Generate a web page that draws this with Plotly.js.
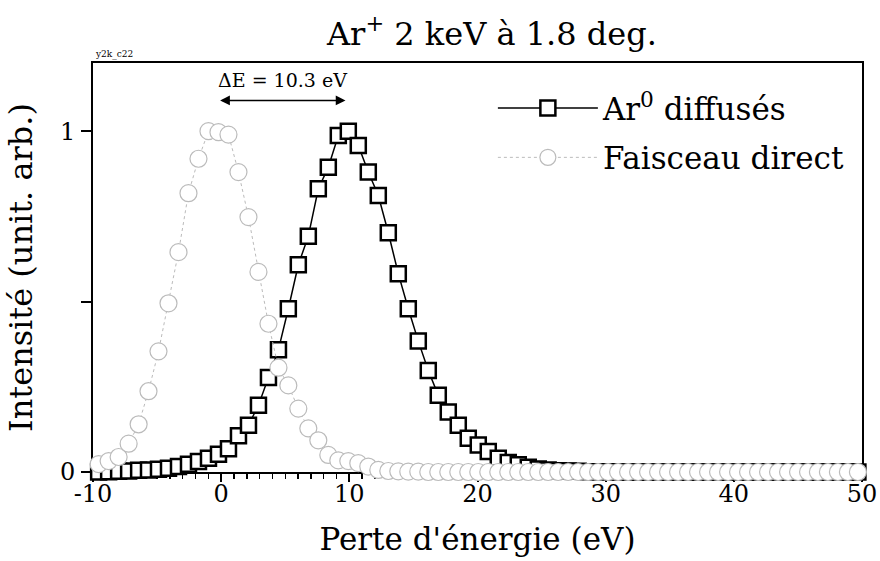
<!DOCTYPE html>
<html>
<head>
<meta charset="utf-8">
<script src="https://cdn.plot.ly/plotly-3.0.1.min.js"></script>
<style>html,body{margin:0;padding:0;background:#fff;}#chart{width:880px;height:561px;}</style>
</head>
<body>
<div id="chart"></div>
<script>
// Energy loss axis (eV), shared by both series
const energy = [
  -9.56, -8.78, -8.00, -7.22, -6.44, -5.67, -4.89, -4.11, -3.33, -2.55,
  -1.77, -0.99, -0.21, 0.57, 1.35, 2.13, 2.91, 3.69, 4.47, 5.24,
  6.02, 6.80, 7.58, 8.36, 9.14, 9.92, 10.70, 11.48, 12.26, 13.04,
  13.82, 14.60, 15.38, 16.16, 16.94, 17.72, 18.50, 19.28, 20.06, 20.84,
  21.62, 22.40, 23.18, 23.96, 24.74, 25.51, 26.29, 27.07, 27.85, 28.63,
  29.41, 30.19, 30.97, 31.75, 32.53, 33.31, 34.09, 34.87, 35.65, 36.43,
  37.21, 37.99, 38.77, 39.55, 40.33, 41.11, 41.89, 42.67, 43.45, 44.23,
  45.01, 45.79, 46.56, 47.34, 48.12, 48.90, 49.68
];
// Ar0 diffuses (scattered neutrals)
const arDiffuses = [
  0.000, 0.001, 0.002, 0.003, 0.005, 0.006, 0.008, 0.011, 0.016, 0.023,
  0.031, 0.040, 0.052, 0.068, 0.106, 0.137, 0.196, 0.277, 0.359, 0.479,
  0.608, 0.692, 0.831, 0.894, 0.987, 1.000, 0.958, 0.880, 0.811, 0.702,
  0.582, 0.479, 0.384, 0.298, 0.225, 0.176, 0.137, 0.099, 0.079, 0.060,
  0.040, 0.028, 0.021, 0.014, 0.009, 0.006, 0.004, 0.003, 0.002, 0.001,
  0.001, 0.001, 0.000, 0.000, 0.000, 0.000, 0.000, 0.000, 0.000, 0.000,
  0.000, 0.000, 0.000, 0.000, 0.000, 0.000, 0.000, 0.000, 0.000, 0.000,
  0.000, 0.000, 0.000, 0.000, 0.000, 0.000, 0.000
];
// Faisceau direct (direct beam)
const faisceauDirect = [
  0.023, 0.032, 0.044, 0.083, 0.140, 0.237, 0.354, 0.495, 0.645, 0.818,
  0.919, 1.000, 0.997, 0.990, 0.880, 0.748, 0.587, 0.435, 0.306, 0.254,
  0.186, 0.128, 0.093, 0.050, 0.034, 0.032, 0.026, 0.016, 0.006, 0.003,
  0.002, 0.001, 0.001, 0.000, 0.000, 0.000, 0.000, 0.000, 0.000, 0.000,
  0.000, 0.000, 0.000, 0.000, 0.000, 0.000, 0.000, 0.000, 0.000, 0.000,
  0.000, 0.000, 0.000, 0.000, 0.000, 0.000, 0.000, 0.000, 0.000, 0.000,
  0.000, 0.000, 0.000, 0.000, 0.000, 0.000, 0.000, 0.000, 0.000, 0.000,
  0.000, 0.000, 0.000, 0.000, 0.000, 0.000, 0.000
];
const seriesNames = ['Ar<sup>0</sup> diffusés', 'Faisceau direct'];
const yTickVals = [0, 0.5, 1];
const yTickText = ['0', ' ', '1'];
const xTickVals = [-10, 0, 10, 20, 30, 40, 50];
const xTickText = ['-10', '0', '10', '20', '30', '40', '50'];
const deltaE = {from: -0.2, to: 9.7, label: 'ΔE = 10.3 eV'};

const FONT = 'DejaVu Serif';

const traces = [
  {
    x: energy, y: arDiffuses, name: seriesNames[0], type: 'scatter', mode: 'lines+markers',
    legendgroup: 'a',
    line: {color: '#000', width: 1.5},
    marker: {symbol: 'square', size: 15, color: '#fff', line: {color: '#000', width: 2.5}},
    cliponaxis: false
  },
  {
    x: energy, y: faisceauDirect, name: seriesNames[1], type: 'scatter', mode: 'lines+markers',
    legendgroup: 'b',
    line: {color: '#bbbbbb', width: 1, dash: 'dot'},
    marker: {symbol: 'circle', size: 17, color: '#fff', line: {color: '#bbbbbb', width: 1.2}},
    cliponaxis: false
  }
];

const layout = {
  width: 880, height: 561,
  margin: {l: 93, r: 18, t: 63, b: 89},
  paper_bgcolor: '#fff', plot_bgcolor: '#fff',
  font: {family: FONT, color: '#000'},
  title: {text: 'Ar<sup>+</sup> 2 keV à 1.8 deg.', font: {size: 32, family: FONT, color: '#000'},
          x: 0.559, xref: 'container', xanchor: 'center', y: 0.94, yref: 'container', yanchor: 'middle'},
  xaxis: {
    range: [-10, 50], tickvals: xTickVals, ticktext: xTickText, ticks: 'outside', ticklen: 8, tickwidth: 2, tickcolor: '#000',
    showline: true, linecolor: '#000', linewidth: 2, mirror: true, showgrid: false, zeroline: false,
    tickfont: {size: 24, family: FONT}, layer: 'below traces', ticklabelstandoff: -9,
    minor: {dtick: 1, ticks: 'outside', ticklen: 5, tickwidth: 1.5, tickcolor: '#000', showgrid: false},
    title: {text: "Perte d'énergie (eV)", font: {size: 31, family: FONT}, standoff: 22}
  },
  yaxis: {
    range: [0, 1.2], tickvals: yTickVals, ticktext: yTickText, ticks: 'outside', ticklen: 10, tickwidth: 2, tickcolor: '#000',
    showline: true, linecolor: '#000', linewidth: 2, mirror: true, showgrid: false, zeroline: false,
    tickfont: {size: 24, family: FONT}, layer: 'below traces', ticklabelstandoff: 1,
    title: {text: 'Intensité (unit. arb.)', font: {size: 32, family: FONT}, standoff: 18}
  },
  legend: {
    x: 0.52, y: 0.955, xanchor: 'left', yanchor: 'top', bgcolor: 'rgba(0,0,0,0)',
    font: {size: 31, family: FONT}, itemwidth: 100, traceorder: 'grouped', tracegroupgap: 6
  },
  annotations: [
    {x: deltaE.to, y: 1.09, ax: deltaE.from, ay: 1.09, xref: 'x', yref: 'y', axref: 'x', ayref: 'y',
     text: '', showarrow: true, arrowhead: 2, arrowside: 'end+start', arrowsize: 1.3, arrowwidth: 1.5, arrowcolor: '#000'},
    {x: (deltaE.from + deltaE.to) / 2, y: 1.15, xref: 'x', yref: 'y', text: deltaE.label, showarrow: false,
     font: {size: 19, family: FONT}},
    {x: 0, y: 1, xref: 'paper', yref: 'paper', xanchor: 'left', yanchor: 'bottom', text: 'y2k_c22', yshift: 1,
     showarrow: false, font: {size: 9, family: FONT}}
  ]
};

Plotly.newPlot('chart', traces, layout, {displayModeBar: false, staticPlot: true});
</script>
</body>
</html>
